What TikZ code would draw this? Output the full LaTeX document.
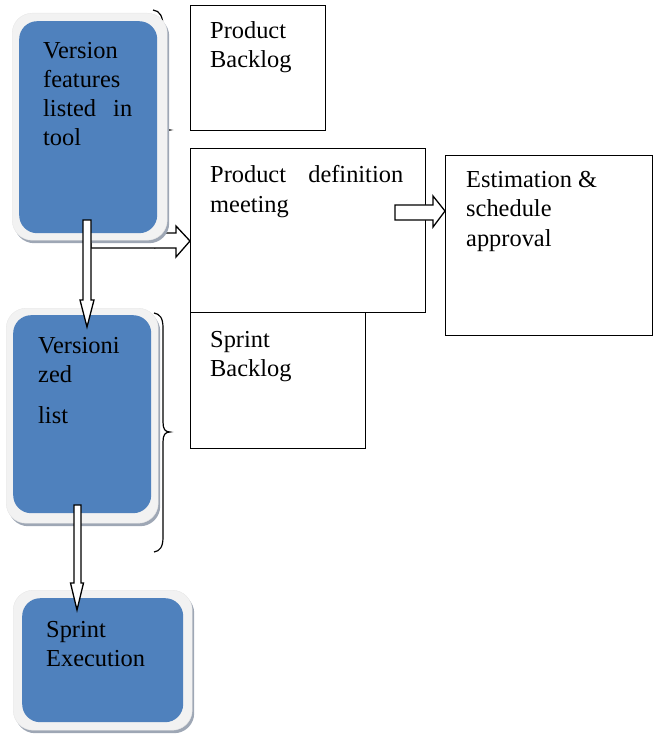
\documentclass[tikz,border=0pt]{standalone}
\usepackage{fontspec}
\setmainfont{Liberation Serif}
\definecolor{boxblue}{HTML}{4F81BD}
\definecolor{rimgray}{HTML}{F2F2F2}
\definecolor{shadgray}{HTML}{9EA7B5}
\begin{document}
\begin{tikzpicture}[x=1pt,y=-1pt,
  txt/.style={anchor=base west,inner sep=0pt,font=\fontsize{24.4}{29}\selectfont},
  plainbox/.style={draw=black,line width=1.4pt,fill=white,anchor=north west,inner sep=0pt},
  shad/.style={fill=shadgray,rounded corners=20pt,anchor=north west,inner sep=0pt},
  rim/.style={fill=rimgray,draw=rimgray!90!gray,line width=0.4pt,rounded corners=20pt,anchor=north west,inner sep=0pt},
  core/.style={fill=boxblue,rounded corners=18pt,anchor=north west,inner sep=0pt},
  blockarrow/.style={draw=black,line width=1.3pt,fill=white,line join=miter},
  bracepath/.style={draw=black,line width=1.2pt}]
\useasboundingbox (0,0) rectangle (654,735);

% rectangles
\node[plainbox,minimum width=135pt,minimum height=125pt] (pb) at (190,5) {};
\node[plainbox,minimum width=175pt,minimum height=136pt] (sb) at (190,312) {};
\node[plainbox,minimum width=235pt,minimum height=164pt] (pd) at (190,148) {};
\node[plainbox,minimum width=207pt,minimum height=180pt] (est) at (445,155) {};

% braces
\coordinate (b1t) at (153,10);
\coordinate (b1m) at (170,130);
\coordinate (b1b) at (154,248);
\draw[bracepath] (b1t) .. controls (160,11) and (163,16) .. (163,28) -- (163,120)
  .. controls (163,127) and (165,130) .. (b1m)
  .. controls (165,130) and (163,133) .. (163,140) -- (163,236)
  .. controls (163,244) and (160,247) .. (b1b);
\coordinate (b2t) at (154,313);
\coordinate (b2m) at (170,432);
\coordinate (b2b) at (154,552);
\draw[bracepath] (b2t) .. controls (160,314) and (163,318) .. (163,328) -- (163,422)
  .. controls (163,429) and (165,432) .. (b2m)
  .. controls (165,432) and (163,435) .. (163,442) -- (163,537)
  .. controls (163,547) and (160,551) .. (b2b);

% arrow from feature list to product definition meeting
\draw[blockarrow] (91,233) -- (176,233) -- (176,226) -- (pd.west |- 0,241) -- (176,257) -- (176,248) -- (91,248) -- cycle;

% rounded boxes
\node[shad,minimum width=155pt,minimum height=227pt] (s1) at (14,16) {};
\node[rim,minimum width=155pt,minimum height=227pt] (o1) at (12,13) {};
\node[core,minimum width=138pt,minimum height=212pt] (vf) at (19,21) {};

\node[shad,minimum width=152pt,minimum height=215pt] (s2) at (8,311) {};
\node[rim,minimum width=152pt,minimum height=215pt] (o2) at (6,308) {};
\node[core,minimum width=138pt,minimum height=198pt] (vl) at (13,315) {};

\node[shad,minimum width=179pt,minimum height=140pt] (s3) at (15,593) {};
\node[rim,minimum width=179pt,minimum height=140pt] (o3) at (13,590) {};
\node[core,minimum width=161pt,minimum height=124pt] (se) at (22,598) {};

% vertical arrows
\draw[blockarrow] (83,220) -- (91,220) -- (91,300) -- (94,300) -- (87,327) -- (80,300) -- (83,300) -- cycle;
\draw[blockarrow] (74,505) -- (81,505) -- (81,583) -- (83.5,583) -- (77,610) -- (70.5,583) -- (74,583) -- cycle;

% arrow from product definition meeting to estimation
\draw[blockarrow] (395,205) -- (433,205) -- (433,196) -- (est.west |- 0,211) -- (433,227) -- (433,220) -- (395,220) -- cycle;

% texts
\node[txt] (t1a) at (43,59) {Version};
\node[txt] (t1b) at (43,88) {features};
\node[txt] (t1c) at (43,117) {\makebox[89pt][s]{listed in}};
\node[txt] (t1d) at (43,146) {tool};

\node[txt] (t2a) at (38,353) {Versioni};
\node[txt] (t2b) at (38,382) {zed};
\node[txt] (t2c) at (38,423) {list};

\node[txt] (t3a) at (46,637) {Sprint};
\node[txt] (t3b) at (46,666) {Execution};

\node[txt] (t4a) at (210,39) {Product};
\node[txt] (t4b) at (210,68) {Backlog};

\node[txt] (t5a) at (210,183) {\makebox[193pt][s]{Product definition}};
\node[txt] (t5b) at (210,212) {meeting};

\node[txt] (t6a) at (466,188) {Estimation \&};
\node[txt] (t6b) at (466,217) {schedule};
\node[txt] (t6c) at (466,246) {approval};

\node[txt] (t7a) at (210,347) {Sprint};
\node[txt] (t7b) at (210,376) {Backlog};
\end{tikzpicture}
\end{document}
